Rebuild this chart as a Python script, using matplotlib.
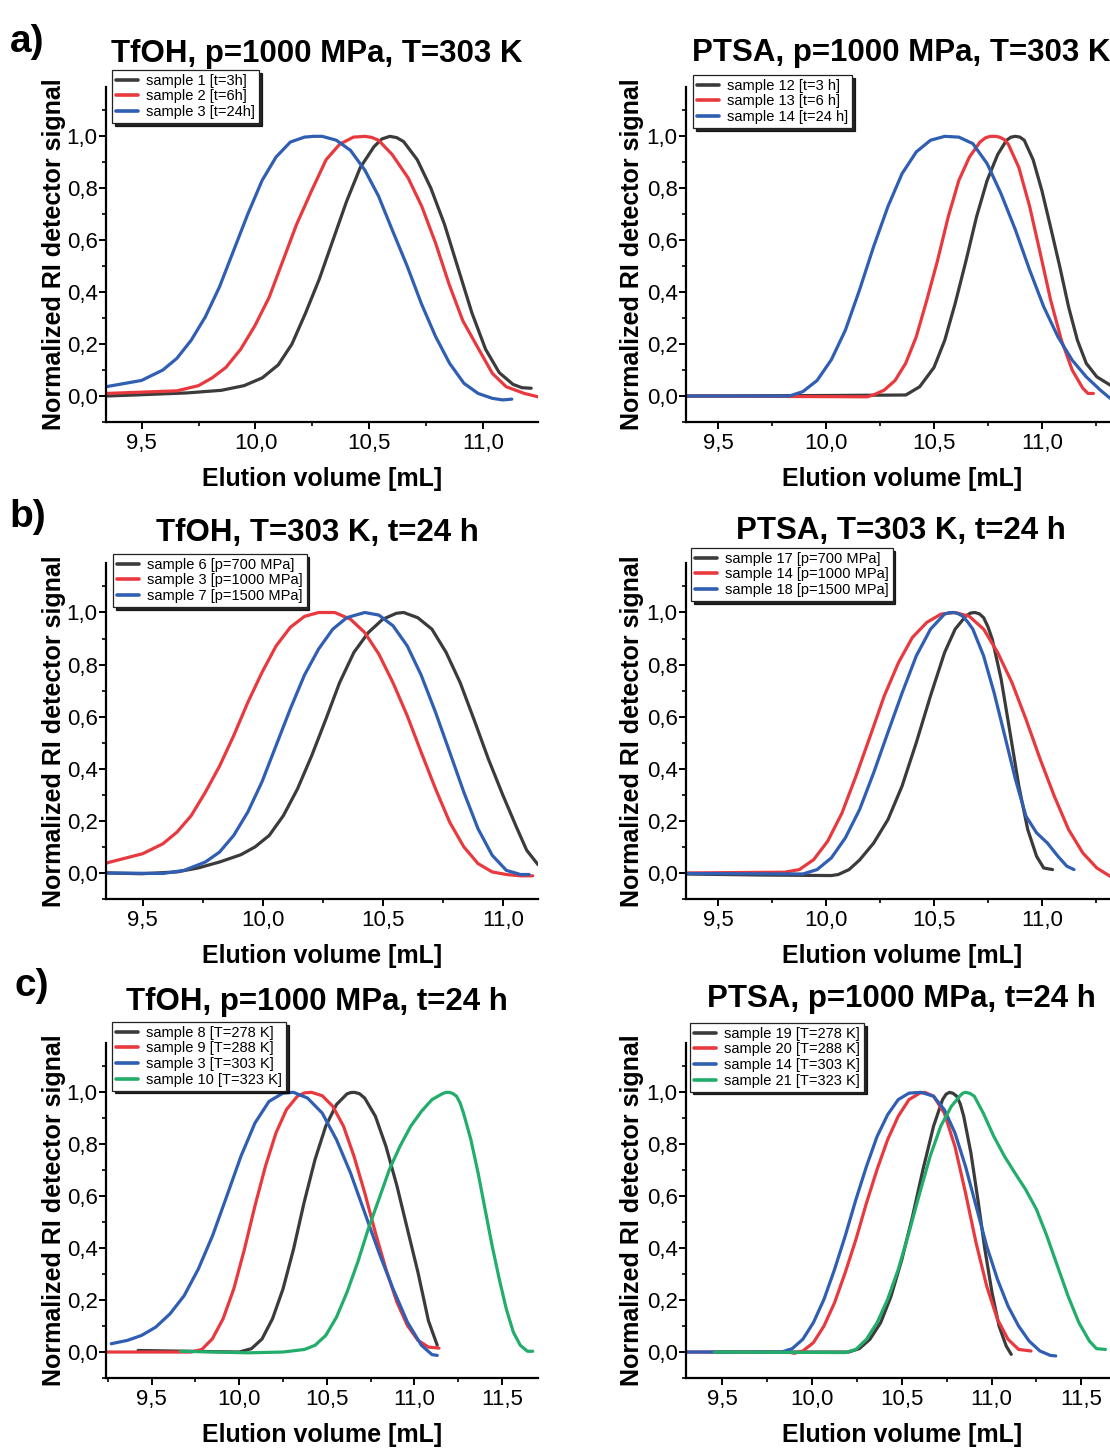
import matplotlib
matplotlib.use("Agg")
import matplotlib.pyplot as plt
from matplotlib.ticker import MultipleLocator, FuncFormatter

plt.rcParams['font.family'] = ['Liberation Sans', 'DejaVu Sans']

W, H = 1110, 1448

# ---------------- data ----------------
# a) TfOH, p=1000 MPa, T=303 K
a1_x = [9.345, 9.50, 9.70, 9.85, 9.95, 10.03, 10.10, 10.16, 10.22, 10.28, 10.34, 10.40, 10.46, 10.52, 10.555,
        10.59, 10.62, 10.65, 10.71, 10.77, 10.83, 10.89, 10.95, 11.01, 11.07, 11.13, 11.17, 11.21]
a1_y = [0.000, 0.005, 0.012, 0.022, 0.040, 0.07, 0.12, 0.20, 0.32, 0.45, 0.60, 0.75, 0.88, 0.96, 0.99,
        1.00, 0.995, 0.98, 0.91, 0.80, 0.66, 0.49, 0.32, 0.18, 0.09, 0.045, 0.032, 0.030]
a2_x = [9.345, 9.655, 9.75, 9.81, 9.87, 9.935, 9.997, 10.06, 10.12, 10.18, 10.246, 10.31, 10.37, 10.43, 10.48,
        10.51, 10.54, 10.60, 10.67, 10.73, 10.79, 10.85, 10.91, 10.98, 11.04, 11.10, 11.18, 11.24]
a2_y = [0.010, 0.020, 0.040, 0.070, 0.110, 0.18, 0.27, 0.38, 0.52, 0.66, 0.79, 0.91, 0.97, 0.997, 1.00,
        0.996, 0.985, 0.93, 0.84, 0.73, 0.59, 0.43, 0.29, 0.18, 0.087, 0.036, 0.010, -0.003]
a3_x = [9.345, 9.50, 9.593, 9.655, 9.718, 9.78, 9.842, 9.904, 9.966, 10.029, 10.09, 10.153, 10.215, 10.255,
        10.293, 10.355, 10.417, 10.48, 10.54, 10.60, 10.666, 10.728, 10.79, 10.852, 10.915, 10.977, 11.04,
        11.086, 11.125]
a3_y = [0.036, 0.06, 0.10, 0.145, 0.215, 0.305, 0.42, 0.56, 0.70, 0.83, 0.92, 0.978, 0.997, 1.00,
        1.00, 0.985, 0.946, 0.87, 0.77, 0.64, 0.50, 0.356, 0.23, 0.126, 0.049, 0.010, -0.009,
        -0.015, -0.012]

# PTSA, p=1000 MPa, T=303 K
a12_x = [9.352, 10.0, 10.37, 10.434, 10.50, 10.55, 10.598, 10.648, 10.697, 10.746, 10.795, 10.836, 10.857,
         10.877, 10.898, 10.918, 10.959, 11.00, 11.04, 11.082, 11.123, 11.164, 11.205, 11.254, 11.316, 11.36]
a12_y = [0.000, 0.002, 0.004, 0.036, 0.11, 0.215, 0.356, 0.52, 0.69, 0.83, 0.93, 0.985, 0.997,
         1.00, 0.997, 0.985, 0.91, 0.79, 0.65, 0.50, 0.344, 0.215, 0.126, 0.074, 0.042, 0.035]
a13_x = [9.352, 9.9, 10.19, 10.22, 10.27, 10.32, 10.369, 10.418, 10.467, 10.516, 10.566, 10.615, 10.664, 10.713,
         10.74, 10.762, 10.785, 10.803, 10.825, 10.844, 10.893, 10.943, 10.992, 11.04, 11.09, 11.14, 11.189,
         11.213, 11.238]
a13_y = [0.000, -0.002, -0.003, 0.004, 0.023, 0.06, 0.126, 0.228, 0.37, 0.52, 0.69, 0.83, 0.92, 0.978,
         0.995, 1.00, 1.00, 0.997, 0.988, 0.97, 0.88, 0.73, 0.55, 0.37, 0.215, 0.10, 0.030,
         0.010, 0.010]
a14_x = [9.352, 9.83, 9.893, 9.959, 10.025, 10.09, 10.156, 10.22, 10.287, 10.352, 10.418, 10.484, 10.55, 10.615,
         10.68, 10.746, 10.81, 10.877, 10.943, 11.008, 11.074, 11.14, 11.205, 11.27, 11.316, 11.36]
a14_y = [0.000, 0.000, 0.017, 0.06, 0.14, 0.254, 0.41, 0.574, 0.73, 0.856, 0.94, 0.985, 1.00, 0.997,
         0.972, 0.895, 0.78, 0.64, 0.485, 0.344, 0.228, 0.138, 0.074, 0.023, -0.009, -0.02]

# b) TfOH, T=303 K, t=24 h
b6_x = [9.348, 9.496, 9.643, 9.73, 9.82, 9.909, 9.968, 10.027, 10.086, 10.145, 10.204, 10.263, 10.32, 10.38,
        10.44, 10.50, 10.557, 10.587, 10.646, 10.705, 10.764, 10.823, 10.88, 10.94, 11.00, 11.06, 11.10, 11.147]
b6_y = [0.000, -0.003, 0.004, 0.019, 0.042, 0.07, 0.10, 0.144, 0.22, 0.323, 0.45, 0.59, 0.73, 0.847,
        0.923, 0.974, 0.997, 1.00, 0.98, 0.936, 0.847, 0.73, 0.59, 0.438, 0.30, 0.17, 0.087, 0.032]
b3_x = [9.348, 9.50, 9.584, 9.643, 9.702, 9.761, 9.82, 9.879, 9.938, 9.997, 10.056, 10.115, 10.174, 10.233,
        10.30, 10.366, 10.425, 10.484, 10.543, 10.602, 10.66, 10.72, 10.779, 10.838, 10.897, 10.956, 11.015,
        11.074, 11.125]
b3_y = [0.038, 0.074, 0.112, 0.157, 0.22, 0.31, 0.41, 0.527, 0.655, 0.77, 0.872, 0.943, 0.985, 1.00,
        1.00, 0.974, 0.923, 0.84, 0.73, 0.604, 0.464, 0.323, 0.195, 0.10, 0.036, 0.004, -0.006,
        -0.011, -0.011]
b7_x = [9.348, 9.584, 9.673, 9.761, 9.82, 9.879, 9.938, 9.997, 10.056, 10.115, 10.174, 10.233, 10.292, 10.35,
        10.425, 10.484, 10.543, 10.602, 10.66, 10.72, 10.779, 10.838, 10.897, 10.956, 11.015, 11.074, 11.11]
b7_y = [0.000, -0.002, 0.010, 0.042, 0.08, 0.144, 0.234, 0.35, 0.49, 0.63, 0.76, 0.86, 0.936, 0.98,
        1.00, 0.99, 0.949, 0.872, 0.76, 0.617, 0.464, 0.31, 0.17, 0.068, 0.010, -0.006, -0.006]

# PTSA, T=303 K, t=24 h
b17_x = [9.352, 9.7, 10.025, 10.057, 10.107, 10.156, 10.221, 10.287, 10.352, 10.418, 10.484, 10.549, 10.598,
         10.648, 10.67, 10.689, 10.71, 10.73, 10.75, 10.77, 10.811, 10.852, 10.893, 10.934, 10.975, 11.008,
         11.049]
b17_y = [-0.004, -0.008, -0.010, -0.006, 0.013, 0.05, 0.115, 0.205, 0.333, 0.50, 0.68, 0.846, 0.936,
         0.987, 0.998, 1.00, 0.995, 0.98, 0.945, 0.897, 0.744, 0.54, 0.333, 0.167, 0.064, 0.019,
         0.013]
b14_x = [9.352, 9.81, 9.877, 9.943, 10.008, 10.074, 10.139, 10.205, 10.27, 10.336, 10.40, 10.467, 10.533, 10.598,
         10.664, 10.73, 10.795, 10.861, 10.926, 10.992, 11.057, 11.123, 11.189, 11.254, 11.316, 11.36]
b14_y = [0.000, 0.003, 0.013, 0.051, 0.122, 0.23, 0.372, 0.526, 0.68, 0.808, 0.904, 0.962, 0.994, 1.00,
         0.985, 0.936, 0.846, 0.731, 0.59, 0.436, 0.295, 0.167, 0.077, 0.019, -0.013, -0.02]
b18_x = [9.352, 9.893, 9.959, 10.025, 10.09, 10.156, 10.221, 10.287, 10.352, 10.418, 10.484, 10.549, 10.57,
         10.59, 10.61, 10.631, 10.655, 10.68, 10.73, 10.779, 10.828, 10.877, 10.926, 10.975, 11.025, 11.074,
         11.115, 11.148]
b18_y = [-0.002, -0.004, 0.013, 0.058, 0.135, 0.244, 0.385, 0.54, 0.69, 0.833, 0.936, 0.994, 0.999,
         1.00, 0.996, 0.987, 0.965, 0.936, 0.833, 0.69, 0.526, 0.36, 0.218, 0.154, 0.115, 0.064,
         0.026, 0.013]

# c) TfOH, p=1000 MPa, t=24 h
c8_x = [9.423, 9.8, 10.0, 10.07, 10.13, 10.19, 10.25, 10.31, 10.37, 10.433, 10.494, 10.555, 10.615, 10.636,
        10.656, 10.686, 10.716, 10.777, 10.837, 10.90, 10.96, 11.02, 11.08, 11.13]
c8_y = [0.006, 0.002, 0.000, 0.013, 0.05, 0.128, 0.243, 0.396, 0.575, 0.742, 0.87, 0.953, 0.994, 0.999,
        1.00, 0.995, 0.978, 0.908, 0.793, 0.64, 0.473, 0.307, 0.12, 0.026]
c9_x = [9.24, 9.726, 9.787, 9.847, 9.908, 9.969, 10.03, 10.09, 10.15, 10.21, 10.27, 10.332, 10.373, 10.413,
        10.474, 10.534, 10.595, 10.655, 10.716, 10.777, 10.837, 10.90, 10.96, 11.02, 11.08, 11.14]
c9_y = [0.000, 0.000, 0.010, 0.051, 0.128, 0.243, 0.396, 0.563, 0.716, 0.844, 0.934, 0.985, 0.998, 1.00,
        0.987, 0.946, 0.87, 0.754, 0.614, 0.46, 0.32, 0.192, 0.102, 0.045, 0.019, 0.015]
c3_x = [9.27, 9.363, 9.443, 9.524, 9.605, 9.686, 9.767, 9.848, 9.929, 10.01, 10.09, 10.17, 10.25, 10.31,
        10.39, 10.474, 10.555, 10.635, 10.716, 10.797, 10.878, 10.96, 11.04, 11.10, 11.13]
c3_y = [0.032, 0.045, 0.064, 0.096, 0.147, 0.217, 0.32, 0.448, 0.60, 0.754, 0.882, 0.965, 0.997, 1.00,
        0.978, 0.92, 0.818, 0.69, 0.537, 0.384, 0.243, 0.115, 0.026, -0.010, -0.013]
c10_x = [9.666, 10.05, 10.25, 10.373, 10.433, 10.494, 10.555, 10.615, 10.676, 10.736, 10.797, 10.857, 10.918,
         10.979, 11.04, 11.10, 11.16, 11.18, 11.20, 11.22, 11.24, 11.26, 11.28, 11.322, 11.363, 11.403,
         11.443, 11.484, 11.524, 11.564, 11.604, 11.645, 11.675]
c10_y = [0.003, -0.003, 0.000, 0.010, 0.026, 0.064, 0.134, 0.23, 0.345, 0.473, 0.588, 0.703, 0.793,
         0.87, 0.927, 0.972, 0.995, 1.00, 1.00, 0.995, 0.985, 0.96, 0.92, 0.818, 0.69, 0.55,
         0.41, 0.281, 0.166, 0.077, 0.026, 0.003, 0.003]

# PTSA, p=1000 MPa, t=24 h
c19_x = [9.455, 10.204, 10.263, 10.322, 10.382, 10.44, 10.50, 10.56, 10.618, 10.677, 10.727, 10.747, 10.766,
         10.786, 10.806, 10.826, 10.845, 10.885, 10.924, 10.963, 11.003, 11.042, 11.082, 11.11]
c19_y = [0.000, 0.000, 0.013, 0.049, 0.113, 0.215, 0.356, 0.523, 0.703, 0.87, 0.972, 0.993, 1.00,
         0.996, 0.985, 0.955, 0.908, 0.767, 0.587, 0.395, 0.228, 0.10, 0.023, -0.009]
c20_x = [9.297, 9.87, 9.90, 9.948, 10.007, 10.066, 10.125, 10.184, 10.244, 10.303, 10.362, 10.421, 10.48, 10.54,
         10.60, 10.628, 10.677, 10.737, 10.796, 10.855, 10.914, 10.973, 11.033, 11.092, 11.151, 11.22]
c20_y = [0.000, 0.000, -0.005, 0.004, 0.036, 0.10, 0.19, 0.305, 0.433, 0.574, 0.703, 0.818, 0.908, 0.972,
         0.997, 1.00, 0.985, 0.92, 0.792, 0.613, 0.42, 0.254, 0.126, 0.049, 0.010, 0.004]
c14_x = [9.297, 9.83, 9.889, 9.948, 10.007, 10.066, 10.125, 10.184, 10.244, 10.303, 10.362, 10.421, 10.48, 10.54,
         10.608, 10.677, 10.737, 10.796, 10.855, 10.914, 10.973, 11.033, 11.092, 11.151, 11.21, 11.27,
         11.328, 11.358]
c14_y = [0.000, 0.000, 0.013, 0.049, 0.113, 0.203, 0.318, 0.446, 0.587, 0.715, 0.83, 0.914, 0.972, 0.997,
         1.00, 0.985, 0.933, 0.844, 0.715, 0.562, 0.408, 0.28, 0.177, 0.10, 0.042, 0.004,
         -0.013, -0.015]
c21_x = [9.455, 10.184, 10.244, 10.303, 10.362, 10.421, 10.48, 10.54, 10.60, 10.658, 10.717, 10.776, 10.825,
         10.84, 10.855, 10.88, 10.904, 10.954, 11.013, 11.072, 11.13, 11.19, 11.25, 11.309, 11.368, 11.427,
         11.487, 11.546, 11.585, 11.635]
c21_y = [0.000, -0.002, 0.010, 0.049, 0.113, 0.203, 0.318, 0.46, 0.613, 0.754, 0.87, 0.946, 0.987,
         0.997, 1.00, 0.996, 0.985, 0.92, 0.83, 0.754, 0.69, 0.626, 0.55, 0.446, 0.33, 0.215,
         0.113, 0.042, 0.013, 0.010]

# ---------------- panel definitions ----------------
BLACK, RED, BLUE, GREEN = '#3b3b3b', '#e8393f', '#2f5eb2', '#22ad6a'

panels = [
    dict(rect=(106, 87, 432, 335), xlim=(9.344, 11.24), xt=[9.5, 10.0, 10.5, 11.0],
         title="TfOH, p=1000 MPa, T=303 K", tcx=317, tby=62,
         series=[(a1_x, a1_y, BLACK, "sample 1 [t=3h]"), (a2_x, a2_y, RED, "sample 2 [t=6h]"),
                 (a3_x, a3_y, BLUE, "sample 3 [t=24h]")], leg=(112, 70)),
    dict(rect=(686, 87, 432, 335), xlim=(9.352, 11.352), xt=[9.5, 10.0, 10.5, 11.0],
         title="PTSA, p=1000 MPa, T=303 K", tcx=901, tby=61,
         series=[(a12_x, a12_y, BLACK, "sample 12 [t=3 h]"), (a13_x, a13_y, RED, "sample 13 [t=6 h]"),
                 (a14_x, a14_y, BLUE, "sample 14 [t=24 h]")], leg=(693, 75)),
    dict(rect=(106, 563, 432, 336), xlim=(9.347, 11.147), xt=[9.5, 10.0, 10.5, 11.0],
         title="TfOH, T=303 K, t=24 h", tcx=317, tby=541,
         series=[(b6_x, b6_y, BLACK, "sample 6 [p=700 MPa]"), (b3_x, b3_y, RED, "sample 3 [p=1000 MPa]"),
                 (b7_x, b7_y, BLUE, "sample 7 [p=1500 MPa]")], leg=(113, 554)),
    dict(rect=(686, 563, 432, 336), xlim=(9.352, 11.352), xt=[9.5, 10.0, 10.5, 11.0],
         title="PTSA, T=303 K, t=24 h", tcx=901, tby=539,
         series=[(b17_x, b17_y, BLACK, "sample 17 [p=700 MPa]"), (b14_x, b14_y, RED, "sample 14 [p=1000 MPa]"),
                 (b18_x, b18_y, BLUE, "sample 18 [p=1500 MPa]")], leg=(691, 548)),
    dict(rect=(106, 1043, 432, 335), xlim=(9.24, 11.705), xt=[9.5, 10.0, 10.5, 11.0, 11.5],
         title="TfOH, p=1000 MPa, t=24 h", tcx=317, tby=1010,
         series=[(c8_x, c8_y, BLACK, "sample 8 [T=278 K]"), (c9_x, c9_y, RED, "sample 9 [T=288 K]"),
                 (c3_x, c3_y, BLUE, "sample 3 [T=303 K]"), (c10_x, c10_y, GREEN, "sample 10 [T=323 K]")],
         leg=(112, 1022)),
    dict(rect=(686, 1043, 432, 335), xlim=(9.297, 11.705), xt=[9.5, 10.0, 10.5, 11.0, 11.5],
         title="PTSA, p=1000 MPa, t=24 h", tcx=901, tby=1007,
         series=[(c19_x, c19_y, BLACK, "sample 19 [T=278 K]"), (c20_x, c20_y, RED, "sample 20 [T=288 K]"),
                 (c14_x, c14_y, BLUE, "sample 14 [T=303 K]"), (c21_x, c21_y, GREEN, "sample 21 [T=323 K]")],
         leg=(690, 1023)),
]

fig = plt.figure(figsize=(W / 100, H / 100), dpi=100)
comma = FuncFormatter(lambda v, p: f"{v:.1f}".replace('.', ','))

for P in panels:
    l, t, w, h = P['rect']
    ax = fig.add_axes([l / W, 1 - (t + h) / H, w / W, h / H])
    for x, y, c, lab in P['series']:
        ax.plot(x, y, color=c, lw=2.3, label=lab, solid_capstyle='round', solid_joinstyle='round')
    ax.set_xlim(*P['xlim'])
    ax.set_ylim(-0.1, 1.19)
    for s in ['top', 'right']:
        ax.spines[s].set_visible(False)
    for s in ['left', 'bottom']:
        ax.spines[s].set_linewidth(1.6)
    ax.set_xticks(P['xt'])
    ax.xaxis.set_minor_locator(MultipleLocator(0.25))
    ax.set_yticks([0, 0.2, 0.4, 0.6, 0.8, 1.0])
    ax.yaxis.set_minor_locator(MultipleLocator(0.1))
    ax.xaxis.set_major_formatter(comma)
    ax.yaxis.set_major_formatter(comma)
    ax.tick_params(which='major', length=5, width=1.4, labelsize=16, direction='out', pad=1)
    ax.tick_params(which='minor', length=3, width=1.2, direction='out')
    ax.tick_params(axis='x', which='major', pad=3)
    ax.set_xlabel("Elution volume [mL]", fontsize=18, fontweight='bold')
    ax.xaxis.set_label_coords(0.5, -45 / h)
    ax.set_ylabel("Normalized RI detector signal", fontsize=18, fontweight='bold')
    ax.yaxis.set_label_coords(-(l - (66 if l < 300 else 644)) / w, 0.5)
    # legend in upper-left, partly above axes
    lx, ly = P['leg']
    leg = ax.legend(loc='upper left', bbox_to_anchor=((lx - l) / w, 1 + (t - ly) / h),
                    borderaxespad=0, fontsize=10.5, frameon=True, fancybox=False,
                    edgecolor='#222222', framealpha=1, borderpad=0.25, labelspacing=0.12,
                    handlelength=1.5, handletextpad=0.6,
                    shadow={'color': 'black', 'alpha': 0.85, 'ox': 2, 'oy': -2})
    leg.get_frame().set_linewidth(0.9)
    for line in leg.get_lines():
        line.set_linewidth(2.6)
    fig.text(P['tcx'] / W, 1 - P['tby'] / H, P['title'], fontsize=22.5, fontweight='bold',
             ha='center', va='baseline')

for lab, x, y in [("a)", 10, 52), ("b)", 9, 527), ("c)", 14, 996)]:
    fig.text(x / W, 1 - y / H, lab, fontsize=28, fontweight='bold', ha='left', va='baseline')

fig.savefig("out.png", dpi=100)
